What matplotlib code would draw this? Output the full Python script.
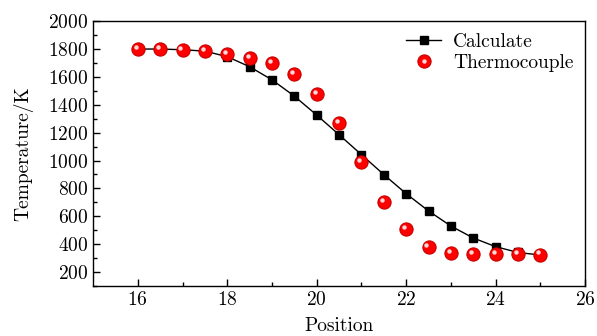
import matplotlib
matplotlib.use("Agg")
import matplotlib.pyplot as plt
from matplotlib.legend_handler import HandlerTuple
from matplotlib.transforms import offset_copy

plt.rcParams['font.family'] = ['cmr10', 'DejaVu Serif']
plt.rcParams['mathtext.fontset'] = 'cm'
plt.rcParams['axes.formatter.use_mathtext'] = True

# positions along the sample
position = [16, 16.5, 17, 17.5, 18, 18.5, 19, 19.5, 20, 20.5,
            21, 21.5, 22, 22.5, 23, 23.5, 24, 24.5, 25]
# calculated temperature (K)
calculate = [1800, 1800, 1795, 1785, 1745, 1673, 1579, 1462, 1326, 1185,
             1042, 899, 762, 638, 530, 444, 382, 340, 322]
# thermocouple readings (K)
thermocouple = [1800, 1800, 1793, 1785, 1761, 1737, 1697, 1622, 1479, 1269,
                987, 700, 507, 380, 339, 328, 328, 327, 325]

fig = plt.figure(figsize=(5.97, 3.36), dpi=100)
ax = fig.add_axes([0.156, 0.149, 0.824, 0.788])

calc_line, = ax.plot(position, calculate, color='black', lw=1.0,
                     marker='s', markersize=6, zorder=2)
ball, = ax.plot(position, thermocouple, ls='none', marker='o', markersize=9.5,
                markerfacecolor='#ff0000', markeredgecolor='#c80000',
                markeredgewidth=0.8, zorder=3)
# shiny highlight on each sphere
shine_tr = offset_copy(ax.transData, fig=fig, x=-1.5, y=1.5, units='points')
shine, = ax.plot(position, thermocouple, ls='none', marker='o', markersize=3.2,
                 markerfacecolor='#ffd8d8', markeredgecolor='none',
                 transform=shine_tr, zorder=4)

ax.set_xlim(15, 26)
ax.set_ylim(100, 2000)
ax.set_xticks([16, 18, 20, 22, 24, 26])
ax.set_xticks([17, 19, 21, 23, 25], minor=True)
ax.set_yticks(range(200, 2001, 200))
ax.set_yticks(range(100, 2000, 200), minor=True)
ax.tick_params(which='both', direction='in', labelsize=14, top=False, right=False)
ax.tick_params(which='major', length=5, width=1)
ax.tick_params(which='minor', length=3, width=1)
for sp in ax.spines.values():
    sp.set_linewidth(1.0)

ax.set_xlabel('Position', fontsize=14, labelpad=6)
ax.set_ylabel('Temperature/K', fontsize=14, labelpad=11)

ax.legend([calc_line, (ball, shine)], ['Calculate', 'Thermocouple'],
          handler_map={tuple: HandlerTuple(ndivide=1, pad=0)},
          loc='upper right', frameon=False, fontsize=14,
          handlelength=1.8, handletextpad=0.6, labelspacing=0.15,
          borderaxespad=0.2)

fig.savefig('out.png', dpi=100)
